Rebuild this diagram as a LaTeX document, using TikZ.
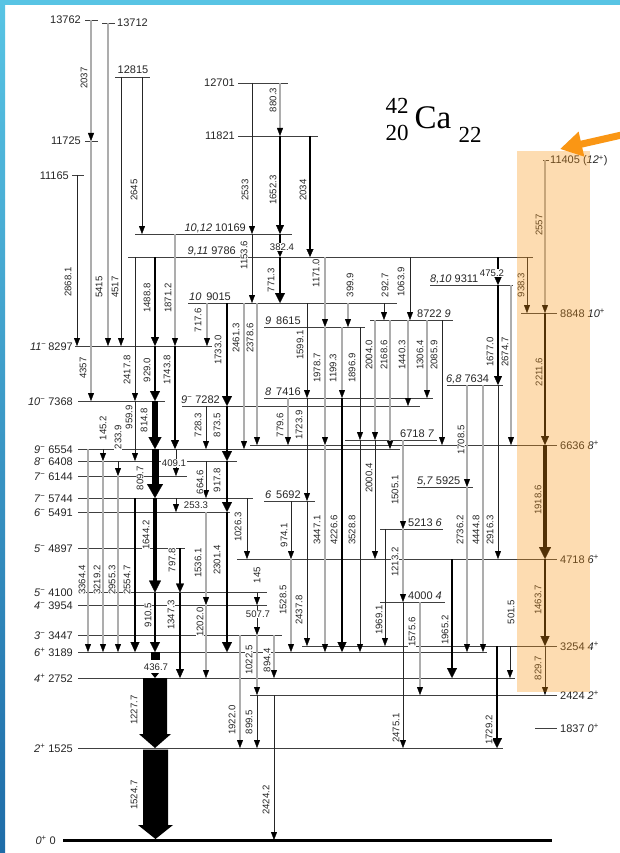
\documentclass[tikz,border=0pt]{standalone}
\usepackage{fontspec}
\setmainfont{Liberation Sans}
\newfontfamily\titlefont{Liberation Serif}
\usetikzlibrary{arrows.meta}
\pgfdeclarelayer{lab}
\pgfdeclarelayer{ovl}
\pgfsetlayers{main,lab,ovl}
\definecolor{bluetop}{RGB}{88,196,228}
\definecolor{bluebot}{RGB}{30,108,168}
\definecolor{orng}{RGB}{250,150,20}
\newcommand\defy[2]{\expandafter\def\csname yy#1\endcsname{#2}}
\newcommand\Y[1]{\csname yy#1\endcsname}
\defy{13762}{20}\defy{13712}{23}\defy{12815}{77}\defy{12701}{83}
\defy{11821}{136}\defy{11725}{141}\defy{11405}{160}\defy{11165}{175}
\defy{10169}{234}\defy{9786}{257}\defy{9311}{285}\defy{9015}{303}
\defy{8848}{313}\defy{8722}{320}\defy{8615}{327}\defy{8297}{346}
\defy{7634}{385}\defy{7416}{398}\defy{7368}{401}\defy{7282}{406}
\defy{6718}{440}\defy{6636}{445}\defy{6554}{449}\defy{6408}{461}
\defy{6144}{476}\defy{5925}{487}\defy{5744}{498}\defy{5692}{501}
\defy{5491}{512}\defy{5213}{529}\defy{4897}{548}\defy{4718}{559}
\defy{4100}{592.5}\defy{4000}{602}\defy{3954}{605}\defy{3447}{635}
\defy{3254}{646}\defy{3189}{652}\defy{2752}{678}\defy{2424}{695}
\defy{1837}{728}\defy{1525}{748}\defy{0}{840}
\newcommand\mn{\textsuperscript{−}}
\newcommand\pl{\textsuperscript{+}}
\tikzset{
  lvl/.style={draw=black!75, line width=0.8pt},
  tipA/.style={-{Triangle[width=6pt,length=8pt,line width=0.3pt,color=black]}},
  tb/.style={tipA, draw=black!85, line width=0.8pt},
  tg/.style={tipA, draw=black!32, line width=1.6pt},
  w15/.style={-{Triangle[width=7pt,length=8pt,line width=0.3pt]}, draw=black, line width=1.4pt},
  w2/.style={-{Triangle[width=8pt,length=9pt,line width=0.3pt]}, draw=black, line width=1.9pt},
  w25/.style={-{Triangle[width=9pt,length=10pt,line width=0.3pt]}, draw=black, line width=2.4pt},
  w3/.style={-{Triangle[width=10pt,length=10pt,line width=0.3pt]}, draw=black, line width=2.9pt},
  w4/.style={-{Triangle[width=12pt,length=12pt,line width=0.3pt]}, draw=black, line width=4pt},
  w5/.style={-{Triangle[width=13pt,length=12pt,line width=0.3pt]}, draw=black, line width=5.5pt},
  w7/.style={-{Triangle[width=16pt,length=14pt,line width=0.3pt]}, draw=black, line width=7pt},
  tlab/.style={rotate=90, font=\fontsize{9.6}{10}\selectfont, text=black!85, fill=white, inner sep=0.5pt},
  hlab/.style={font=\fontsize{9.6}{10}\selectfont, text=black!85, fill=white, inner sep=0.5pt},
  llab/.style={font=\fontsize{11}{12}\selectfont, text=black!85, inner sep=0pt},
}
\newcommand\Tr[8][tlab]{%
  \draw[#2] (#3,\Y{#4}) -- (#3,\Y{#5});
  \begin{pgfonlayer}{lab}\node[#1] at (#7,#8) {#6};\end{pgfonlayer}}
\newcommand\Lv[3]{\draw[lvl] (#2,\Y{#1}) -- (#3,\Y{#1});}
\newcommand\LL[3]{\node[llab, anchor=base east] at (#2,\Y{#1}+4) {#3};}
\newcommand\LR[3]{\node[llab, anchor=base west] at (#2,\Y{#1}+4) {#3};}
\newcommand\LA[3]{\node[llab, anchor=base west] at (#2,\Y{#1}-3) {#3};}
\begin{document}
\begin{tikzpicture}[x=1pt,y=-1pt]
\useasboundingbox (0,0) rectangle (620,853);
\fill[white] (0,0) rectangle (620,853);
% ---------- levels
\Lv{13762}{85}{98}\Lv{13712}{102}{115}\Lv{12815}{115}{150}
\Lv{12701}{238}{288}\Lv{11821}{238}{318}\Lv{11725}{85}{98}
\Lv{11405}{543}{549}\Lv{11165}{72}{84}
\Lv{10169}{135}{292}\Lv{9786}{128}{533}\Lv{9311}{430}{513}
\Lv{9015}{188}{397}\Lv{8848}{521}{557}\Lv{8722}{370}{453}
\Lv{8615}{264}{365}\Lv{8297}{75}{212}\Lv{7634}{447}{503}
\Lv{7416}{264}{433}\Lv{7368}{78}{165}\Lv{7282}{182}{420}
\Lv{6718}{345}{437}\Lv{6636}{250}{557}\Lv{6554}{78}{400}
\Lv{6408}{78}{237}\Lv{6144}{78}{187}\Lv{5925}{417}{473}
\Lv{5744}{78}{253}\Lv{5692}{264}{315}\Lv{5491}{78}{230}
\Lv{5213}{380}{443}\Lv{4897}{78}{185}\Lv{4718}{237}{557}
\Lv{4100}{78}{267}\Lv{4000}{380}{445}\Lv{3954}{78}{267}
\Lv{3447}{78}{282}\Lv{3254}{302}{557}\Lv{3189}{78}{487}
\Lv{2752}{78}{515}\Lv{2424}{250}{557}\Lv{1837}{535}{557}
\Lv{1525}{78}{503}
\draw[black, line width=3pt] (63,\Y{0}) -- (552,\Y{0});
% ---------- level labels
\LL{13762}{81}{13762}\LR{13712}{117}{13712}
\node[llab, anchor=base] at (133,\Y{12815}-3) {12815};
\LL{12701}{235}{12701}\LL{11821}{235}{11821}
\LL{11725}{81}{11725}\LL{11165}{69}{11165}
\LR{11405}{550}{11405 (\textit{12}\pl)}
\node[llab, anchor=base east] at (246,\Y{10169}-3) {\textit{10,12} 10169};
\node[llab, anchor=base east] at (236,\Y{9786}-3) {\textit{9,11} 9786};
\LA{9311}{430}{\textit{8,10} 9311}
\LA{9015}{189}{\textit{10}\, 9015}
\LA{8722}{417}{8722 \textit{9}}
\LA{8615}{265}{\textit{9}\, 8615}
\LA{7634}{446}{\textit{6,8} 7634}
\LA{7416}{265}{\textit{8}\, 7416}
\LA{7282}{181}{\textit{9}\mn\ 7282}
\LA{6718}{400}{6718 \textit{7}}
\LA{5925}{417}{\textit{5,7} 5925}
\LA{5692}{265}{\textit{6}\, 5692}
\LA{5213}{408}{5213 \textit{6}}
\LA{4000}{408}{4000 \textit{4}}
\LL{8297}{73}{\textit{11}\mn\,8297}
\LL{7368}{73}{\textit{10}\mn\ 7368}
\LL{6554}{73}{\textit{9}\mn\ 6554}
\LL{6408}{73}{\textit{8}\mn\ 6408}
\LL{6144}{73}{\textit{7}\mn\ 6144}
\LL{5744}{73}{\textit{7}\mn\ 5744}
\LL{5491}{73}{\textit{6}\mn\ 5491}
\LL{4897}{73}{\textit{5}\mn\ 4897}
\LL{4100}{73}{\textit{5}\mn\ 4100}
\LL{3954}{73}{\textit{4}\mn\ 3954}
\LL{3447}{73}{\textit{3}\mn\ 3447}
\LL{3189}{73}{\textit{6}\pl\ 3189}
\LL{2752}{73}{\textit{4}\pl\ 2752}
\LL{1525}{73}{\textit{2}\pl\ 1525}
\LL{0}{56}{\textit{0}\pl\ 0}
\LR{8848}{560}{8848 \textit{10}\pl}
\LR{6636}{560}{6636 \textit{8}\pl}
\LR{4718}{560}{4718 \textit{6}\pl}
\LR{3254}{560}{3254 \textit{4}\pl}
\LR{2424}{560}{2424 \textit{2}\pl}
\LR{1837}{560}{1837 \textit{0}\pl}
% ---------- transitions, left part
\Tr{tb}{77}{11165}{8297}{2868.1}{68}{282}
\Tr{tg}{91}{13762}{11725}{2037}{84}{78}
\Tr{tg}{91}{11725}{7368}{4357}{83}{368}
\Tr{tg}{108}{13712}{8297}{5415}{99}{287}
\Tr{tb}{121}{12815}{8297}{4517}{115}{287}
\Tr{tb}{142}{12815}{10169}{2645}{134}{190}
\Tr{tb}{135}{9786}{7368}{2417.8}{127}{370}
\Tr{w2}{155}{9786}{8297}{1488.8}{147}{298}
\Tr{w3}{155}{8297}{7368}{929.0}{147}{370}
\Tr{w5}{155}{7368}{6554}{814.8}{144}{420}
\Tr{w7}{155}{6554}{5744}{809.7}{140}{478}
\Tr{w4}{155}{5744}{4100}{1644.2}{146}{535}
\Tr{w3}{155}{4100}{3189}{910.5}{148}{615}
\Tr{tg}{175}{10169}{8297}{1871.2}{168}{298}
\Tr{w2}{175}{8297}{6554}{1743.8}{167}{370}
\Tr{tg}{207}{9015}{8297}{717.6}{198}{320}
\Tr{tb}{135}{7368}{6408}{959.9}{129}{417}
\Tr{tb}{103}{6554}{6408}{145.2}{103}{428}
\Tr{tb}{118}{6408}{6144}{233.9}{118}{437}
\Tr[hlab]{tb}{176}{6554}{6144}{409.1}{174}{463}
\Tr{tb}{206}{7282}{6554}{728.3}{198}{425}
\Tr{w3}{227}{9015}{7282}{1733.0}{218}{350}
\Tr{w3}{227}{7282}{6408}{873.5}{217}{425}
\Tr{tb}{206}{6408}{5744}{664.6}{200}{482}
\Tr{w3}{227}{6408}{5491}{917.8}{217}{480}
\Tr[hlab]{tb}{176}{5744}{5491}{253.3}{196}{505}
\Tr{w2}{180}{4897}{4100}{797.8}{172}{560}
\Tr{w2}{180}{4100}{2752}{1347.3}{171}{615}
\Tr{tg}{206}{5491}{3954}{1536.1}{198}{563}
\Tr{w3}{227}{5491}{3189}{2301.4}{217}{560}
\Tr{tg}{206}{3954}{2752}{1202.0}{200}{622}
\Tr{tg}{88}{6554}{3189}{3364.4}{82}{580}
\Tr{tg}{103}{6408}{3189}{3219.2}{97}{580}
\Tr{tg}{118}{6144}{3189}{2955.3}{112}{580}
\Tr{w25}{135}{5744}{3189}{2554.7}{127}{580}
% ---------- centre
\Tr{tb}{247}{5744}{4718}{1026.3}{238}{527}
\Tr{tb}{257}{4100}{3954}{145}{257}{575}
\Tr[hlab]{tb}{257}{3954}{3447}{507.7}{258}{614}
\Tr{tg}{257}{3447}{2424}{1022.5}{249}{660}
\Tr{tb}{257}{2424}{1525}{899.5}{249}{722}
\Tr{tg}{240}{3447}{1525}{1922.0}{232}{720}
\Tr{tg}{274}{3447}{2752}{894.4}{267}{660}
\Tr{tb}{274}{2424}{0}{2424.2}{266}{800}
\Tr{tg}{244}{9015}{6554}{2461.3}{236}{338}
\Tr{tg}{257}{9015}{6636}{2378.6}{250}{338}
\Tr{tb}{252}{12701}{10169}{2533}{245}{190}
\Tr{tb}{252}{10169}{9015}{1153.6}{244}{255}
\Tr{tg}{280}{12701}{11821}{880.3}{273}{100}
\Tr{w2}{280}{11821}{10169}{1652.3}{273}{190}
\Tr[hlab]{w2}{280}{10169}{9786}{382.4}{282}{247}
\Tr{w3}{280}{9786}{9015}{771.3}{271}{280}
\Tr{w15}{310}{11821}{9786}{2034}{303}{190}
\Tr{tg}{288}{7416}{6636}{779.6}{280}{425}
\Tr{tb}{307}{9015}{7416}{1599.1}{300}{345}
\Tr{tb}{307}{7416}{5692}{1723.9}{299}{425}
\Tr{tb}{291}{5692}{4718}{974.1}{284}{535}
\Tr{tg}{291}{4718}{3189}{1528.5}{283}{600}
\Tr{tb}{307}{5692}{3254}{2437.8}{299}{610}
\Tr{tg}{325}{9786}{8615}{1171.0}{316}{273}
\Tr{tg}{325}{8615}{6636}{1978.7}{317}{368}
\Tr{tg}{325}{6636}{3189}{3447.1}{317}{530}
\Tr{tg}{348}{9015}{8615}{399.9}{350}{285}
\Tr{tg}{342}{8615}{7416}{1199.3}{333}{368}
\Tr{w25}{342}{7416}{3189}{4226.6}{334}{530}
\Tr{tb}{360}{8615}{6718}{1896.9}{352}{368}
\Tr{tb}{360}{6718}{3189}{3528.8}{352}{530}
\Tr{tb}{384}{9015}{8722}{292.7}{385}{285}
\Tr{tb}{410}{9786}{8722}{1063.9}{401}{282}
\Tr{tg}{375}{8722}{6718}{2004.0}{369}{355}
\Tr{tb}{375}{6718}{4718}{2000.4}{369}{478}
\Tr{tg}{390}{8722}{6554}{2168.6}{384}{355}
\Tr{tg}{408}{8722}{7282}{1440.3}{402}{355}
\Tr{tg}{427}{8722}{7416}{1306.4}{420}{355}
\Tr{tb}{442}{8722}{6636}{2085.9}{434}{355}
\Tr{tg}{403}{6718}{5213}{1505.1}{395}{490}
\Tr{tg}{403}{5213}{4000}{1213.2}{395}{562}
\Tr{tb}{403}{4000}{1525}{2475.1}{396}{728}
\Tr{tg}{420}{4000}{2424}{1575.6}{412}{632}
\Tr{tb}{385}{5213}{3254}{1969.1}{379}{620}
% ---------- right part
\Tr[hlab]{w2}{498}{9786}{9311}{475.2}{492}{273}
\Tr{w2}{498}{9311}{7634}{1677.0}{490}{352}
\Tr{tg}{511}{9311}{6636}{2674.7}{505}{352}
\Tr{tg}{467}{7634}{5925}{1708.5}{461}{440}
\Tr{tg}{467}{5925}{3189}{2736.2}{460}{530}
\Tr{tg}{483}{7634}{3189}{4444.8}{476}{530}
\Tr{tb}{498}{7634}{4718}{2916.3}{490}{530}
\Tr{w3}{452}{4718}{2752}{1965.2}{445}{630}
\Tr{tb}{510}{3254}{2752}{501.5}{511}{612}
\Tr{w3}{497}{3254}{1525}{1729.2}{489}{730}
\Tr{tg}{545}{11405}{8848}{2557}{539}{225}
\Tr{tb}{527}{9786}{8848}{938.3}{521}{285}
\Tr{w2}{545}{8848}{6636}{2211.6}{539}{372}
\Tr{w4}{545}{6636}{4718}{1918.6}{538}{500}
\Tr{w25}{545}{4718}{3254}{1463.7}{538}{600}
\Tr{tb}{545}{3254}{2424}{829.7}{538}{668}
% ---------- big low-lying transitions
\fill[black] (151,\Y{3189}) rectangle (160,660);
\fill[black] (151,673) -- (159,673) -- (155,\Y{2752}) -- cycle;
\begin{pgfonlayer}{lab}
\node[font=\fontsize{9.6}{10}\selectfont, text=black!85, inner sep=0pt] at (156,667) {436.7};
\node[tlab] at (134,710) {1227.7};
\node[tlab] at (134,795) {1524.7};
\end{pgfonlayer}
\fill[black] (143,\Y{2752}) -- (167,\Y{2752}) -- (167,734) -- (171,734) -- (155,\Y{1525}) -- (139,734) -- (143,734) -- cycle;
\fill[black] (143,749.5) -- (168,749.5) -- (168,825) -- (173,825) -- (155.5,839) -- (138,825) -- (143,825) -- cycle;
% ---------- title
\node[font=\titlefont\fontsize{23}{23}\selectfont, inner sep=0pt] at (397,106) {42};
\node[font=\titlefont\fontsize{23}{23}\selectfont, inner sep=0pt] at (397,133) {20};
\node[font=\titlefont\fontsize{33}{33}\selectfont, inner sep=0pt, anchor=base] at (433,129) {Ca};
\node[font=\titlefont\fontsize{23}{23}\selectfont, inner sep=0pt] at (470,135) {22};
% ---------- overlay: highlight box, frame, arrow
\begin{pgfonlayer}{ovl}
\fill[orng, opacity=0.33] (517,151) rectangle (590,692);
\fill[bluetop] (0,0) rectangle (620,5);
\shade[top color=bluetop, bottom color=bluebot] (0,0) rectangle (5,853);
\draw[orng, line width=7pt, -{Triangle[width=24pt,length=22pt]}] (626,134) -- (560,149);
\end{pgfonlayer}
\end{tikzpicture}
\end{document}
